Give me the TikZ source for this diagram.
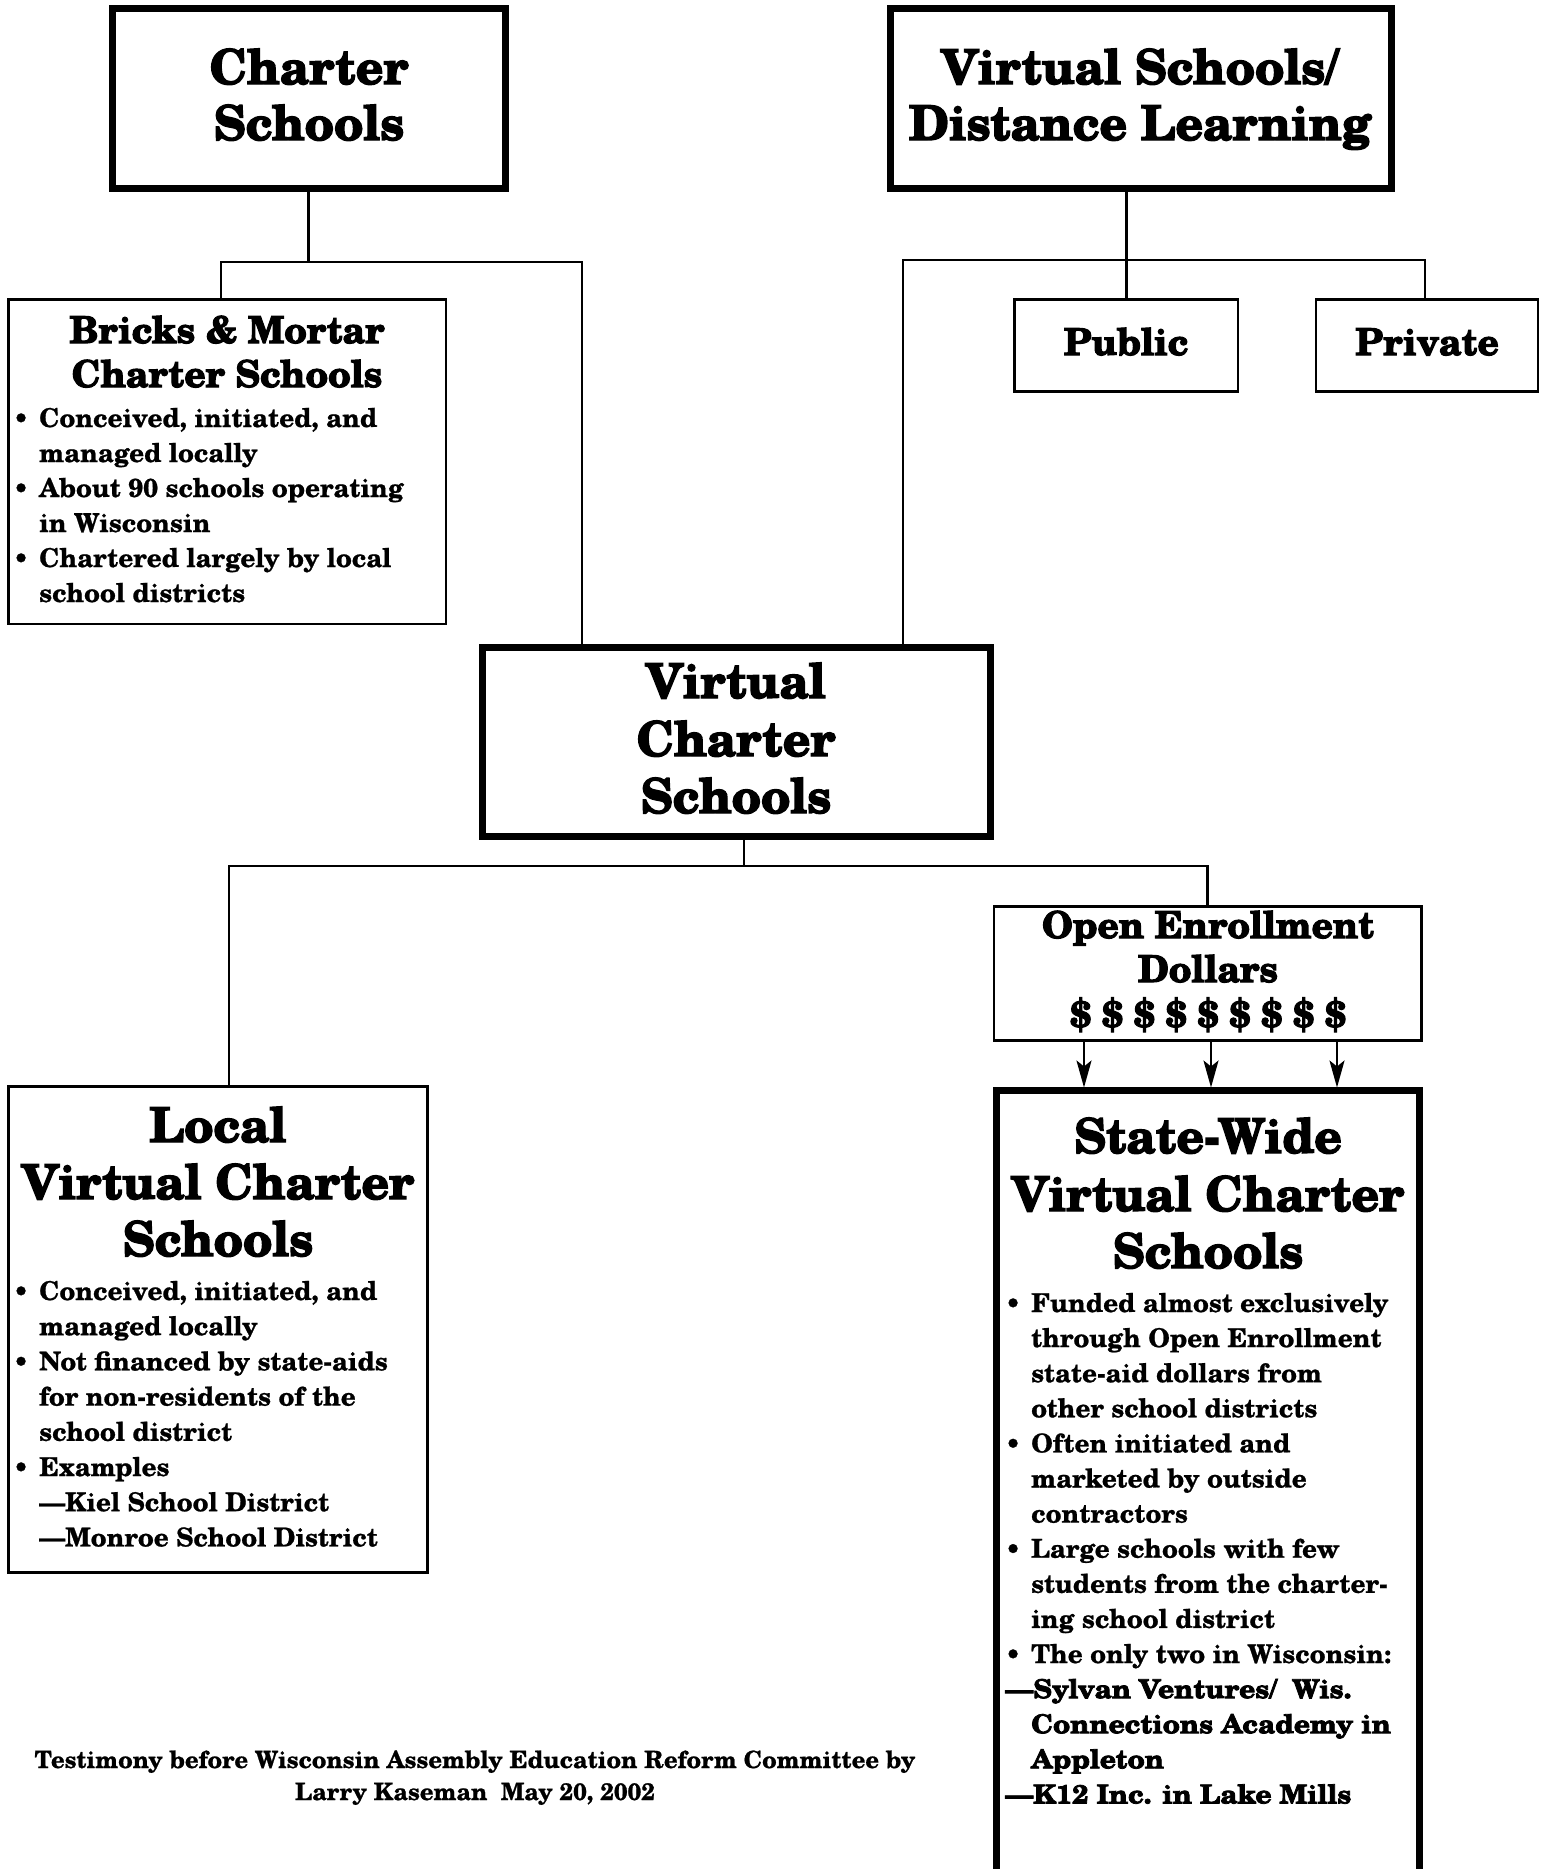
\documentclass[tikz,border=0pt]{standalone}
\usepackage{fontspec}
\setmainfont{texgyreschola-bold}[Extension=.otf, FakeBold=0.8]
\newfontfamily\heavy{texgyreschola-bold}[Extension=.otf, FakeBold=3]
\newfontfamily\heavyw{texgyreschola-bold}[Extension=.otf, FakeBold=3, FakeStretch=1.08]
\usetikzlibrary{arrows.meta}
\newcommand\bul{\makebox[26pt][l]{•}}
\newcommand\ind{\hspace*{26pt}}
\tikzset{
 thickbox/.style={draw, line width=7pt, inner sep=0pt, outer sep=0pt},
 thinbox/.style={draw, line width=2.8pt, inner sep=0pt, outer sep=0pt},
 conn/.style={line width=2.6pt},
 arr/.style={line width=2.4pt, shorten >=3pt, -{Stealth[length=27pt,width=15pt,inset=6pt]}},
 big/.style={font=\heavy\fontsize{48}{56}\selectfont, inner sep=0pt, anchor=base},
 mid/.style={font=\heavy\fontsize{37}{44}\selectfont, inner sep=0pt, anchor=base},
 body/.style={font=\fontsize{26}{35}\selectfont, inner sep=0pt, anchor=base west},
 foot/.style={font=\fontsize{23.8}{32}\selectfont, inner sep=0pt, anchor=base},
}
\begin{document}
\begin{tikzpicture}[x=1pt,y=-1pt]
\useasboundingbox (0,0) rectangle (1551,1869);
\fill[white] (0,0) rectangle (1551,1869);
\clip (0,0) rectangle (1551,1869);

% boxes
\node[thickbox, minimum width=393, minimum height=180] (cs) at (308.5,98.5) {};
\node[thickbox, minimum width=501.5, minimum height=180] (vs) at (1140.75,98.5) {};
\node[thinbox, minimum width=437.5, minimum height=324.5] (bm) at (227.25,461.75) {};
\node[thinbox, minimum width=223.5, minimum height=92] (pu) at (1126.25,345.5) {};
\node[thinbox, minimum width=222, minimum height=92] (pv) at (1427,345.5) {};
\node[thickbox, minimum width=508, minimum height=189] (vc) at (736,742) {};
\node[thinbox, minimum width=427.5, minimum height=134] (oe) at (1207.75,973.5) {};
\node[thinbox, minimum width=419, minimum height=486] (lv) at (218,1329.5) {};
\node[thickbox, minimum width=423, minimum height=860] (sw) at (1208,1520.5) {};

% connectors
\coordinate (hl1) at (221,262);
\coordinate (hr1) at (582,262);
\draw[conn] (cs.south) -- (cs.south |- hl1);
\draw[conn] (hl1 |- bm.north) -- (hl1) -- (hr1) -- (hr1 |- vc.north);

\coordinate (hl2) at (903,260);
\coordinate (hr2) at (1425,260);
\draw[conn] (pu.north |- vs.south) -- (pu.north);
\draw[conn] (hl2 |- vc.north) -- (hl2) -- (hr2) -- (hr2 |- pv.north);

\coordinate (vcb) at (744,866);
\coordinate (hl3) at (229,866);
\draw[conn] (vcb |- vc.south) -- (vcb);
\draw[conn] (hl3 |- lv.north) -- (hl3) -- (oe.north |- hl3) -- (oe.north);

\foreach \x [count=\i] in {1084,1211,1337} {
  \coordinate (ax\i) at (\x,0);
  \draw[arr] (oe.south -| ax\i) -- (sw.north -| ax\i);
}

% titles
\node[big] (cs1) at (309,84) {Charter};
\node[big] (cs2) at (309,140) {Schools};
\node[big] (vs1) at (1140,84) {Virtual Schools/};
\node[big] (vs2) at (1140,140) {Distance Learning};
\node[mid] (bm1) at (227,343) {Bricks \& Mortar};
\node[mid] (bm2) at (227,387) {Charter Schools};
\node[mid] (pu1) at (1126,355) {Public};
\node[mid] (pv1) at (1427,355) {Private};
\node[big] (vc1) at (736,698) {Virtual};
\node[big] (vc2) at (736,756) {Charter};
\node[big] (vc3) at (736,813) {Schools};
\node[mid] (oe1) at (1208,938) {Open Enrollment};
\node[mid] (oe2) at (1208,982) {Dollars};
\node[mid] (oe3) at (1208,1027) {\$ \$ \$ \$ \$ \$ \$ \$ \$};
\node[big] (lv1) at (218,1142) {Local};
\node[big] (lv2) at (218,1199) {Virtual Charter};
\node[big] (lv3) at (218,1256) {Schools};
\node[big] (sw1) at (1208,1153) {State-Wide};
\node[big] (sw2) at (1208,1211) {Virtual Charter};
\node[big] (sw3) at (1208,1268) {Schools};

% bodies
\foreach \t [count=\i] in {
  {\bul Conceived, initiated, and},
  {\ind managed locally},
  {\bul About 90 schools operating},
  {\ind in Wisconsin},
  {\bul Chartered largely by local},
  {\ind school districts}}
  \node[body, name=bk\i] at (13,{427+35*(\i-1)}) {\t};

\foreach \t [count=\i] in {
  {\bul Conceived, initiated, and},
  {\ind managed locally},
  {\bul Not financed by state-aids},
  {\ind for non-residents of the},
  {\ind school district},
  {\bul Examples},
  {\ind —Kiel School District},
  {\ind —Monroe School District}}
  \node[body, name=lb\i] at (13,{1300+35.2*(\i-1)}) {\t};

\foreach \t [count=\i] in {
  {\bul Funded almost exclusively},
  {\ind through Open Enrollment},
  {\ind state-aid dollars from},
  {\ind other school districts},
  {\bul Often initiated and},
  {\ind marketed by outside},
  {\ind contractors},
  {\bul Large schools with few},
  {\ind students from the charter-},
  {\ind ing school district},
  {\bul The only two in Wisconsin:},
  {\heavyw —Sylvan Ventures/\hspace{15pt}Wis.},
  {\ind\heavyw Connections Academy in},
  {\ind\heavyw Appleton},
  {\heavyw —K12 Inc. in Lake Mills}}
  \node[body, name=sb\i] at (1005,{1312+35.1*(\i-1)}) {\t};

% footer
\node[foot] (ft1) at (475,1768) {Testimony before Wisconsin Assembly Education Reform Committee by};
\node[foot] (ft2) at (475,1800) {Larry Kaseman\ \ May\ 20,\ 2002};
\end{tikzpicture}
\end{document}
